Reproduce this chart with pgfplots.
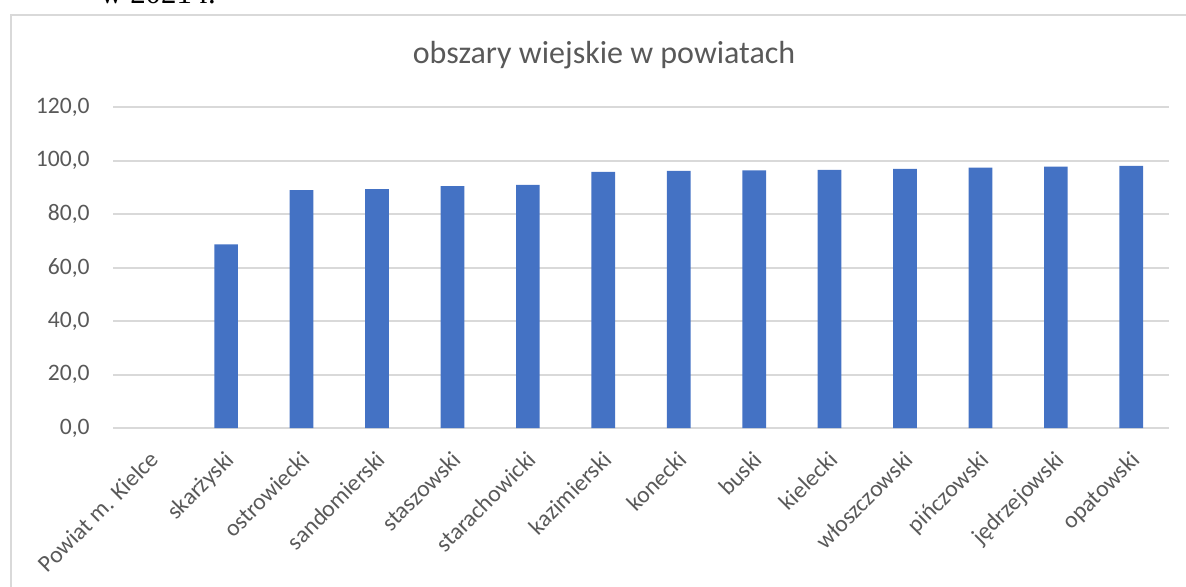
\documentclass[border=0pt]{standalone}
\usepackage{pgfplots}
\pgfplotsset{compat=1.18}
\usepackage{fontspec}
\setmainfont{Carlito}
\newfontfamily\serifx{Liberation Serif}
\definecolor{barblue}{HTML}{4472C4}
\definecolor{gridgray}{HTML}{D9D9D9}
\definecolor{txtgray}{HTML}{595959}
\begin{document}
\begin{tikzpicture}
\clip (0,0) rectangle (593pt,293.5pt);
\draw[gridgray, line width=1pt] (5.5pt,-20pt) -- (5.5pt,286pt) -- (620pt,286pt);
\node[anchor=base west, inner sep=0pt, font=\serifx\fontsize{15.4}{18}\selectfont] at (50pt,291.5pt) {w 2021 r.};
\node[font=\fontsize{16}{19}\selectfont, text=txtgray] at (302pt,266pt) {obszary wiejskie w powiatach};
\begin{axis}[
  at={(56.5pt,79.4pt)}, anchor=south west,
  scale only axis, width=528pt, height=160.5pt,
  xmin=-0.5, xmax=13.5, ymin=0, ymax=120,
  ytick={0,20,...,120},
  xtick={0,1,...,13},
  xticklabels={Powiat m. Kielce, skarżyski, ostrowiecki, sandomierski, staszowski, starachowicki, kazimierski, konecki, buski, kielecki, włoszczowski, pińczowski, jędrzejowski, opatowski},
  ymajorgrids, grid style={gridgray, line width=1pt},
  axis line style={draw=none},
  major tick length=0pt,
  tick label style={text=txtgray, font=\fontsize{11.8}{14}\selectfont},
  xticklabel style={xshift=-1pt, yshift=-10.5pt, rotate=45, anchor=north east, inner sep=0pt},
  yticklabel style={inner sep=0pt, xshift=-11.5pt},
  /pgf/number format/.cd, fixed, fixed zerofill, precision=1, use comma, assume math mode=true,
]
\addplot[ybar, bar width=11.85pt, fill=barblue, draw=none] coordinates {
(1,68.7) (2,89.0) (3,89.4) (4,90.5) (5,91.0) (6,95.8) (7,96.2) (8,96.4) (9,96.6) (10,96.9) (11,97.4) (12,97.8) (13,98.1)
};
\end{axis}
\end{tikzpicture}
\end{document}
